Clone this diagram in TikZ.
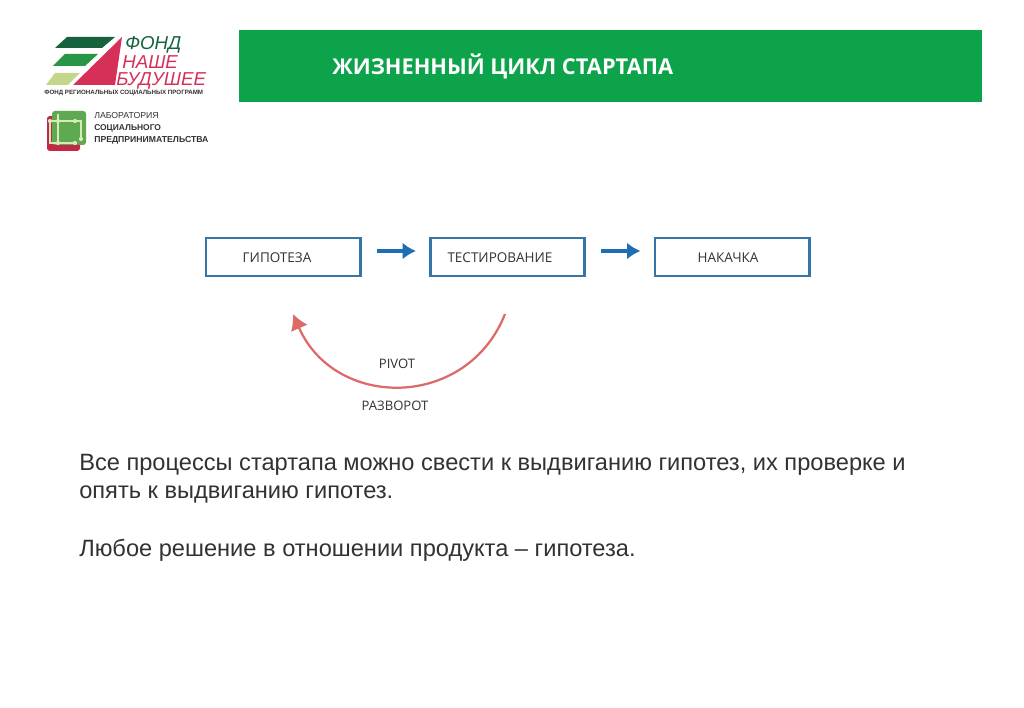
\documentclass[tikz,border=0pt]{standalone}
\usepackage{fontspec}
\setmainfont{Liberation Sans}
\newfontfamily\labelfont{Open Sans}
\usetikzlibrary{arrows.meta, positioning}
\definecolor{fondgreen}{RGB}{12,163,75}
\definecolor{fonddark}{RGB}{22,98,62}
\definecolor{fondmid}{RGB}{40,150,70}
\definecolor{fondpale}{RGB}{196,214,140}
\definecolor{fondred}{RGB}{214,48,88}
\definecolor{labgreen}{RGB}{95,170,80}
\definecolor{labred}{RGB}{196,40,72}
\definecolor{labpale}{RGB}{215,235,185}
\definecolor{stepblue}{RGB}{52,118,170}
\definecolor{arrowblue}{RGB}{30,110,180}
\definecolor{pivotred}{RGB}{222,105,105}
\definecolor{inkgray}{RGB}{50,50,50}
\newcommand{\boxlabel}[2]{\raisebox{0pt}[8.2pt][0pt]{#2}\kern#1}

\begin{document}
\begin{tikzpicture}[
    x=0.025cm, y=-0.025cm,
    stepbox/.style={draw=stepblue, line width=2.1pt, fill=white, minimum width=3.85cm,
      minimum height=0.95cm, inner sep=0pt, text=inkgray, font=\labelfont\fontsize{9.6}{12}\selectfont},
    stepflow/.style={arrowblue, line width=2.2pt, -{Latex[length=9.5pt, width=12pt]}},
    pivotflow/.style={pivotred, line width=1.6pt, -{Latex[length=11pt, width=13pt]}},
    bodytext/.style={anchor=base west, inner sep=0pt, text=inkgray, font=\fontsize{16.8}{20}\selectfont},
    smalltext/.style={inner sep=0pt, text=inkgray, font=\labelfont\fontsize{9.3}{12}\selectfont},
    fondtext/.style={anchor=base west, inner sep=0pt, text=fondred, font=\itshape\fontsize{13.3}{16}\selectfont},
    labtext/.style={anchor=west, inner sep=0pt, text=inkgray, font=\fontsize{6.1}{8}\selectfont},
    labline/.style={labpale, line width=1pt},
    labdot/.style={circle, fill=labpale, minimum size=3pt, inner sep=0pt},
  ]

  \useasboundingbox (0,0) rectangle (1024,708);

  % --- header band ---
  \fill[fondgreen] (239,30) rectangle (982,102);
  \node[anchor=base west, inner sep=0pt, text=white, font=\labelfont\bfseries\fontsize{15.5}{18}\selectfont] (title) at (332,75)
    {ЖИЗНЕННЫЙ ЦИКЛ СТАРТАПА};

  % --- fund logo ---
  \fill[fonddark] (67,37) -- (115,37) -- (102,48) -- (55,48) -- cycle;
  \fill[fondmid] (65,54) -- (98,54) -- (85,66) -- (53,66) -- cycle;
  \fill[fondpale] (55,73) -- (80,73) -- (68,85) -- (46,85) -- cycle;
  \fill[fondred] (122,37) -- (115,85) -- (73,85) -- cycle;
  \node[fondtext, text=fonddark] (fond1) at (125,50) {ФОНД};
  \node[fondtext] (fond2) at (122,68.5) {НАШЕ};
  \node[fondtext] (fond3) at (116,85.5) {БУДУШЕЕ};
  \node[anchor=west, inner sep=0pt, text=inkgray, font=\bfseries\fontsize{4.4}{5}\selectfont] (fond4) at (44,93)
    {ФОНД РЕГИОНАЛЬНЫХ СОЦИАЛЬНЫХ ПРОГРАММ};

  % --- lab logo ---
  \fill[labred, rounded corners=2pt] (47,116) rectangle (80,151);
  \fill[labgreen, rounded corners=2pt] (52,111) rectangle (86,145);
  \draw[labline] (50,121) -- (81,121) -- (81,139);
  \draw[labline] (50,121) -- (50,143) -- (77,143);
  \draw[labline] (58,114) -- (58,144);
  \foreach \x/\y in {50/121, 58/121, 75/121, 81/139, 58/143, 75/143} {
    \node[labdot] at (\x,\y) {};
  }
  \node[labtext, font=\fontsize{6.2}{8}\selectfont] (lab1) at (94,116) {ЛАБОРАТОРИЯ};
  \node[labtext, font=\bfseries\fontsize{6}{8}\selectfont] (lab2) at (94,128) {СОЦИАЛЬНОГО};
  \node[labtext, font=\bfseries\fontsize{6.15}{8}\selectfont] (lab3) at (94,140) {ПРЕДПРИНИМАТЕЛЬСТВА};

  % --- cycle boxes ---
  \node[stepbox] (hypothesis) at (283,257) {\boxlabel{8.5pt}{ГИПОТЕЗА}};
  \node[stepbox] (testing) at (507.5,257) {\boxlabel{10.7pt}{ТЕСТИРОВАНИЕ}};
  \node[stepbox] (growth) at (732,257) {\boxlabel{5.7pt}{НАКАЧКА}};

  % --- connectors ---
  \draw[stepflow] ([xshift=0.375cm, yshift=0.15cm]hypothesis.east) -- ([xshift=-0.325cm, yshift=0.15cm]testing.west);
  \draw[stepflow] ([xshift=0.375cm, yshift=0.15cm]testing.east) -- ([xshift=-0.325cm, yshift=0.15cm]growth.west);

  % --- pivot ---
  \coordinate (pivotstart) at (505,314);
  \coordinate (pivotend) at (293,314);
  \draw[pivotflow] (pivotstart) .. controls (467,410) and (335,410) .. (pivotend);
  \node[smalltext] (pivot) at (397,364) {PIVOT};
  \node[smalltext] (turn) at (395,406) {РАЗВОРОТ};

  % --- body text ---
  \node[bodytext] (line1) at (79,470) {Все процессы стартапа можно свести к выдвиганию гипотез, их проверке и};
  \node[bodytext] (line2) at (79,498) {опять к выдвиганию гипотез.};
  \node[bodytext] (line3) at (79,556) {Любое решение в отношении продукта – гипотеза.};

\end{tikzpicture}
\end{document}
